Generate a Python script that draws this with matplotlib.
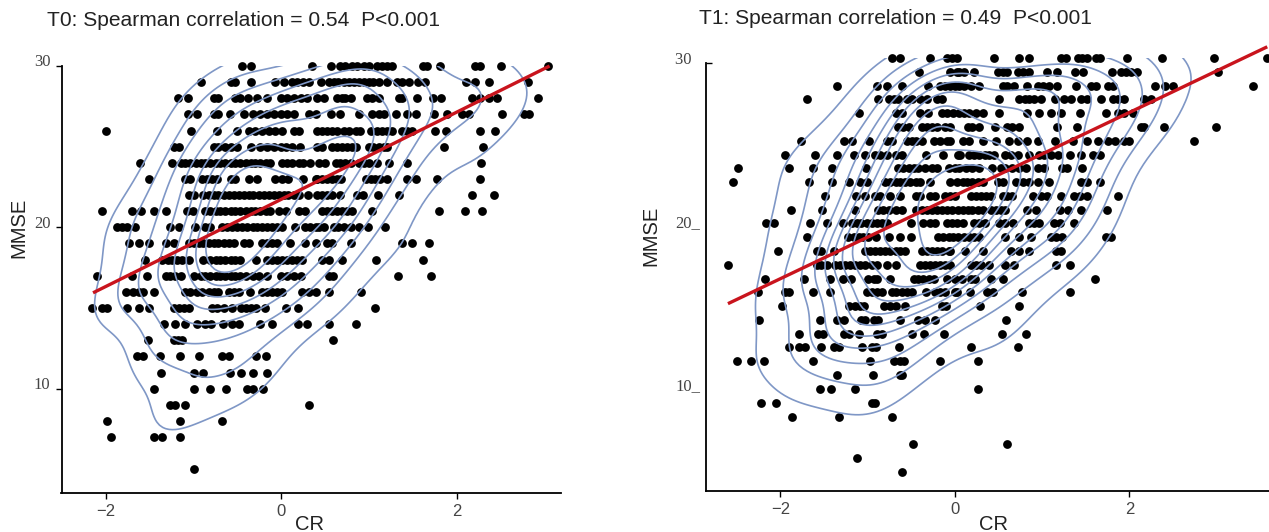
import matplotlib
matplotlib.use('Agg')
from matplotlib import pyplot as plt
from matplotlib.markers import TICKRIGHT
from matplotlib.transforms import ScaledTranslation
import seaborn as sns

W, H = 1269, 532

# T0: MMSE is whole numbers, one x list per row
t0_y = [30, 29, 28, 27, 26, 25, 24, 23, 22, 21, 20, 19, 18, 17, 16, 15, 14, 13, 12, 11, 10, 9, 8, 7, 5]
t0_x = [
    [-.45, -.35, .35, .56, .67, .73, .81, .86, .94, 1.0, 1.09, 1.15, 1.21, 1.26, 1.61, 1.66, 1.81, 2.21, 2.27, 2.5, 3.04],
    [-.92, -.58, -.53, -.35, -.07, .03, .12, .18, .25, .31, .45, .54, .60, .65, .71, .77, .83, .88, .94, 1.0, 1.05, 1.11, 1.21, 1.32, 1.38, 1.45, 1.56, 1.64, 2.11, 2.21, 2.37, 2.81],
    [-1.18, -1.07, -.77, -.72, -.53, -.47, -.38, -.28, -.16, -.01, .06, .14, .22, .29, .41, .48, .63, .69, .73, .79, .98, 1.03, 1.11, 1.34, 1.38, 1.55, 1.73, 1.82, 2.18, 2.27, 2.37, 2.46, 2.93],
    [-1.07, -.96, -.77, -.72, -.59, -.43, -.32, -.24, -.16, -.09, -.01, .06, .14, .31, .39, .56, .67, .88, 1.03, 1.11, 1.17, 1.31, 1.43, 1.54, 1.74, 1.89, 2.06, 2.14, 2.52, 2.77, 2.82],
    [-2.0, -1.03, -.74, -.51, -.37, -.30, -.22, -.14, -.07, .01, .14, .2, .41, .46, .52, .58, .63, .71, .77, .85, .9, 1.02, 1.09, 1.15, 1.21, 1.26, 1.38, 1.43, 1.49, 1.75, 1.88, 2.26, 2.44],
    [-1.23, -1.17, -.77, -.72, -.64, -.58, -.51, -.35, -.24, -.16, -.09, -.01, .05, .12, .21, .41, .46, .58, .63, .69, .75, .81, .85, 1.0, 1.05, 1.11, 1.17, 1.21, 1.86, 2.3],
    [-1.61, -1.25, -1.15, -1.10, -1.04, -.98, -.92, -.87, -.81, -.75, -.70, -.64, -.58, -.53, -.47, -.41, -.35, -.30, -.24, -.18, -.13, .01, .06, .12, .2, .25, .33, .43, .50, .62, .67, .73, .79, .88, .94, 1.0, 1.09, 1.23, 1.43, 2.28],
    [-1.51, -1.10, -1.04, -.91, -.85, -.79, -.73, -.58, -.53, -.37, -.28, -.07, .01, .08, .25, .39, .41, .46, .52, .58, .63, .68, .96, 1.02, 1.07, 1.13, 1.2, 1.43, 1.53, 1.77, 2.26],
    [-1.06, -1.0, -.89, -.83, -.77, -.72, -.66, -.60, -.54, -.49, -.43, -.37, -.32, -.26, -.2, -.14, -.09, -.03, .03, .08, .14, .2, .3, .41, .46, .52, .58, .67, .86, .93, 1.1, 1.34, 2.18, 2.42],
    [-2.05, -1.70, -1.60, -1.45, -1.32, -1.08, -1.01, -.87, -.81, -.75, -.70, -.64, -.58, -.53, -.47, -.41, -.35, -.30, -.24, -.18, -.13, -.03, .05, .2, .27, .46, .52, .58, .63, .69, .75, .81, 1.03, 1.8, 2.09, 2.29],
    [-1.88, -1.82, -1.76, -1.67, -1.27, -1.17, -.99, -.87, -.81, -.68, -.62, -.56, -.51, -.45, -.39, -.33, -.28, -.22, -.16, -.11, -.05, .01, .16, .27, .33, .39, .43, .48, .6, .65, .71, .79, .89, .99, 1.18],
    [-1.74, -1.62, -1.51, -1.32, -1.23, -1.06, -1.0, -.94, -.89, -.83, -.77, -.72, -.66, -.60, -.54, -.43, -.37, -.22, -.16, -.11, -.05, .10, .27, .39, .52, .58, .79, 1.37, 1.49, 1.68],
    [-1.56, -1.36, -1.3, -1.25, -1.19, -1.13, -1.06, -.89, -.81, -.75, -.7, -.64, -.58, -.53, -.47, -.29, -.16, -.11, -.05, .01, .06, .12, .18, .24, .46, .54, .69, 1.08, 1.61],
    [-2.10, -1.70, -1.53, -1.32, -1.27, -1.21, -1.15, -1.0, -.92, -.87, -.81, -.75, -.70, -.64, -.58, -.53, -.47, -.41, -.33, -.26, -.16, -.01, .06, .14, .22, .54, .59, 1.33, 1.71],
    [-1.77, -1.69, -1.63, -1.58, -1.45, -1.10, -1.04, -.96, -.91, -.83, -.77, -.72, -.60, -.54, -.49, -.36, -.22, -.16, -.11, -.05, .01, .24, .31, .39, .54, .91],
    [-2.16, -2.05, -1.99, -1.76, -1.62, -1.51, -1.23, -1.17, -1.11, -1.06, -.79, -.73, -.66, -.56, -.46, -.40, -.35, -.29, -.19, .05, .19, 1.07],
    [-1.34, -1.21, -1.10, -.96, -.87, -.80, -.67, -.57, -.49, -.24, -.11, .19, .29, .54, .85],
    [-1.52, -1.23, -1.18, -1.14, .59],
    [-1.65, -1.58, -1.39, -1.16, -.94, -.68, -.6, -.29, -.18],
    [-1.38, -1.0, -.89, -.59, -.46, -.33, -.16],
    [-1.45, -1.0, -.82, -.63, -.39, -.33, -.21],
    [-1.27, -1.22, -1.10, .32],
    [-1.99, -1.16, -.68],
    [-1.94, -1.46, -1.36, -1.16],
    [-1.0],
]

# T1: rows read against the printed ticks
t1_y = [30.35, 29.48, 28.64, 27.80, 26.94, 26.09, 25.23, 24.39, 23.55, 22.71, 21.87, 21.02, 20.18, 19.34, 18.48, 17.63,
        16.79, 15.95, 15.09, 14.25, 13.40, 12.56, 11.70, 10.86, 10.02, 9.17, 8.31, 6.63, 5.79, 4.93]
t1_x = [
    [-.72, -.63, -.29, -.09, -.03, .02, .45, .73, .85, 1.22, 1.27, 1.41, 1.46, 1.52, 1.62, 1.66, 1.97, 2.37, 2.97, 3.58],
    [-.41, -.06, .02, .05, .11, .22, .49, .55, .6, .72, .78, .85, 1.06, 1.17, 1.38, 1.47, 1.8, 1.90, 1.96, 2.02, 2.09, 3.02],
    [-1.35, -.89, -.78, -.60, -.31, -.17, -.11, -.05, 0, .05, .11, .18, .28, .55, .60, .68, .83, .95, 1.01, 1.08, 1.17, 1.39, 1.56, 1.62, 1.76, 1.81, 2.29, 2.41, 2.50, 3.42],
    [-1.69, -.88, -.76, -.70, -.65, -.55, -.49, -.40, -.32, -.21, -.15, .51, .74, .80, .85, .91, .99, 1.15, 1.25, 1.33, 1.44, 1.52, 1.67, 1.81, 1.87, 1.94, 2.17, 2.25],
    [-1.10, -.67, -.61, -.40, -.31, -.15, -.09, -.02, .05, .11, .16, .24, .32, .51, .83, .97, 1.1, 1.22, 1.43, 1.73, 1.87, 1.94, 2.04],
    [-.65, -.59, -.53, -.38, -.32, -.26, -.21, -.11, -.05, .15, .20, .28, .46, .60, .66, .74, 1.17, 1.40, 2.13, 2.17, 2.40, 2.99],
    [-1.76, -1.27, -1.18, -.98, -.78, -.72, -.55, -.49, -.44, -.38, -.24, -.17, -.09, -.05, .09, .16, .32, .47, .62, .72, .83, .95, 1.15, 1.35, 1.52, 1.64, 1.75, 1.83, 1.94, 2.0, 2.74],
    [-1.95, -1.60, -1.35, -1.15, -1.03, -.91, -.86, -.78, -.67, -.61, -.33, -.13, .04, .06, .16, .22, .28, .34, .39, .45, .58, .64, .72, .85, .97, 1.02, 1.10, 1.18, 1.32, 1.44, 1.58, 1.66],
    [-2.49, -1.90, -1.63, -1.41, -1.02, -.65, -.59, -.53, -.47, -.42, -.34, -.26, -.21, -.07, 0, .05, .13, .20, .28, .43, .53, .58, .66, .74, .81, .95, 1.02, 1.23, 1.29, 1.46],
    [-2.54, -1.67, -1.41, -1.21, -1.09, -1.01, -.80, -.74, -.68, -.63, -.57, -.51, -.45, -.40, -.28, -.05, .02, .09, .14, .20, .26, .32, .49, .55, .70, .78, .85, .95, 1.08, 1.44, 1.52, 1.66],
    [-1.49, -1.13, -1.03, -.91, -.86, -.74, -.63, -.45, -.40, -.28, -.23, -.11, -.05, 0, .18, .24, .30, .36, .41, .55, .60, .66, .89, .99, 1.06, 1.22, 1.37, 1.43, 1.52, 1.87],
    [-1.88, -1.52, -1.14, -.88, -.82, -.76, -.67, -.61, -.44, -.38, -.32, -.26, -.21, -.15, -.09, -.03, .04, .09, .15, .20, .26, .32, .41, .47, .53, .58, .83, .93, 1.20, 1.30, 1.45, 1.74],
    [-2.16, -2.07, -1.66, -1.46, -1.28, -1.18, -1.12, -1.07, -1.01, -.95, -.89, -.84, -.78, -.50, -.36, -.28, -.23, -.09, -.03, .02, .09, .22, .28, .34, .51, .57, .67, .85, .91, .97, 1.14, 1.2, 1.36],
    [-1.69, -1.22, -1.16, -1.10, -1.05, -.99, -.90, -.76, -.63, -.50, -.19, -.13, -.07, -.02, .04, .11, .16, .22, .28, .58, .73, .87, 1.10, 1.16, 1.23, 1.73, 1.79],
    [-2.03, -1.58, -1.53, -1.39, -1.03, -.97, -.91, -.86, -.80, -.74, -.68, -.63, -.57, -.38, -.32, -.26, -.21, -.15, -.07, -.05, .12, .32, .64, .73, .85, 1.16, 1.22],
    [-2.60, -1.58, -1.53, -1.47, -1.37, -1.32, -1.26, -1.20, -1.14, -1.09, -1.03, -.95, -.89, -.78, -.67, -.40, -.34, -.28, -.23, -.17, -.11, -.05, .18, .24, .30, .39, .58, .68, 1.16, 1.32],
    [-2.17, -1.73, -1.43, -1.28, -1.19, -.99, -.93, -.89, -.74, -.47, -.42, -.36, -.30, -.24, -.09, 0, .08, .18, .23, .41, .55, 1.61],
    [-2.26, -1.95, -1.90, -1.63, -1.43, -1.01, -.95, -.89, -.84, -.72, -.67, -.61, -.55, -.49, -.33, -.23, -.17, -.11, 0, .03, .17, .37, .44, .77, 1.32],
    [-1.98, -1.21, -1.14, -1.09, -1.04, -.81, -.74, -.68, -.57, -.15, -.10, .29, .73],
    [-2.24, -1.54, -1.35, -1.27, -1.07, -1.03, -.93, -.88, -.63, -.42, -.34, -.23, .59],
    [-1.79, -1.57, -1.51, -1.27, -1.21, -1.10, -.89, -.84, -.49, -.35, -.12, .54, .81],
    [-1.90, -1.79, -1.72, -1.53, -1.39, -1.33, -1.06, -.95, -.90, -.64, .18, .72],
    [-2.50, -2.34, -2.19, -1.63, -.97, -.70, -.63, -.58, -.17, .26],
    [-1.35, -.94, -.63, -.60],
    [-1.55, -1.42, -1.14, .26],
    [-2.22, -2.05, -.95, -.91],
    [-1.87, -1.33, -.72],
    [-.48, .60],
    [-1.12],
    [-.60],
]

# fitted line ends
t0_line_x = [-2.15, 3.06]
t0_line_y = [15.94, 30.0]
t1_line_x = [-2.60, 3.58]
t1_line_y = [15.25, 31.02]

t0_title = 'T0: Spearman correlation = 0.54  P<0.001'
t1_title = 'T1: Spearman correlation = 0.49  P<0.001'
y_ticks = [10, 20, 30]
t0_y_labels = ['10', '20', '30']
t1_y_labels = ['10_', '20_', '30  ']
x_ticks = [-2, 0, 2]
x_tick_labels = ['\u22122', '0', '2']

plt.rcParams['font.family'] = ['Liberation Sans', 'DejaVu Sans']
fig = plt.figure(figsize=(W / 100, H / 100), dpi=100)


def flat(ys, xs):
    px, py = [], []
    for y, row in zip(ys, xs):
        for x in row:
            px.append(x)
            py.append(y)
    return px, py


def panel(box, xlim, ylim, ys, xs, line_x, line_y, levels, thresh, y_labels, y_pad):
    left, right, top, bottom = box
    ax = fig.add_axes([left / W, 1 - bottom / H, (right - left) / W, (bottom - top) / H])
    px, py = flat(ys, xs)
    ax.scatter(px, py, s=40, color='black', linewidths=0, zorder=1, clip_on=False)
    sns.kdeplot(x=px, y=py, ax=ax, levels=levels, thresh=thresh, bw_adjust=1.0,
                color='#7f97c6', linewidths=1.2, zorder=2)
    ax.plot(line_x, line_y, color='#c9141d', lw=2.4, zorder=3, clip_on=False, solid_capstyle='butt')
    ax.set_xlim(xlim)
    ax.set_ylim(ylim)
    ax.spines['top'].set_visible(False)
    ax.spines['right'].set_visible(False)
    ax.spines['left'].set_bounds(ylim[0], 30)
    ax.spines['left'].set_linewidth(1.3)
    ax.spines['bottom'].set_linewidth(1.3)
    ax.set_xticks(x_ticks)
    ax.set_xticklabels(x_tick_labels, fontsize=12, color='#444444')
    ax.set_yticks(y_ticks)
    ax.set_yticklabels(y_labels, fontsize=12, color='#444444', family='Liberation Serif')
    ax.tick_params(axis='both', length=4, width=1)
    ax.tick_params(axis='x', pad=4)
    ax.tick_params(axis='y', pad=y_pad)
    # printed labels sit a little above their ticks
    shift = ScaledTranslation(0, 4 / 72, fig.dpi_scale_trans)
    for label in ax.get_yticklabels():
        label.set_transform(label.get_transform() + shift)
    ax.set_xlabel('')
    ax.set_ylabel('')
    return ax


panel((61.5, 561, 66, 492.7), (-2.51, 3.19), (3.55, 30), t0_y, t0_x, t0_line_x, t0_line_y, 9, 0.11, t0_y_labels, 4)
ax1 = panel((705.7, 1269, 57.7, 491), (-2.855, 3.6), (3.75, 30.35), t1_y, t1_x, t1_line_x, t1_line_y, 12, 0.09, t1_y_labels, 0)
ticks1 = ax1.yaxis.get_major_ticks()
ticks1[0].tick1line.set_visible(False)
ticks1[1].tick1line.set_visible(False)
ticks1[2].tick1line.set_marker(TICKRIGHT)

fig.text(47 / W, 1 - 21 / H, t0_title, fontsize=15.1, va='center', color='#222222')
fig.text(699 / W, 1 - 18 / H, t1_title, fontsize=15.1, va='center', color='#222222')
fig.text(310 / W, 1 - 524 / H, 'CR', fontsize=14.5, ha='center', va='center', color='#222222')
fig.text(993 / W, 1 - 524 / H, 'CR', fontsize=14.5, ha='center', va='center', color='#222222')
fig.text(19 / W, 1 - 228 / H, 'MMSE', fontsize=14.5, rotation=90, ha='center', va='center', color='#222222')
fig.text(651 / W, 1 - 236 / H, 'MMSE', fontsize=14.5, rotation=90, ha='center', va='center', color='#222222')

plt.savefig('out.png', dpi=100)
